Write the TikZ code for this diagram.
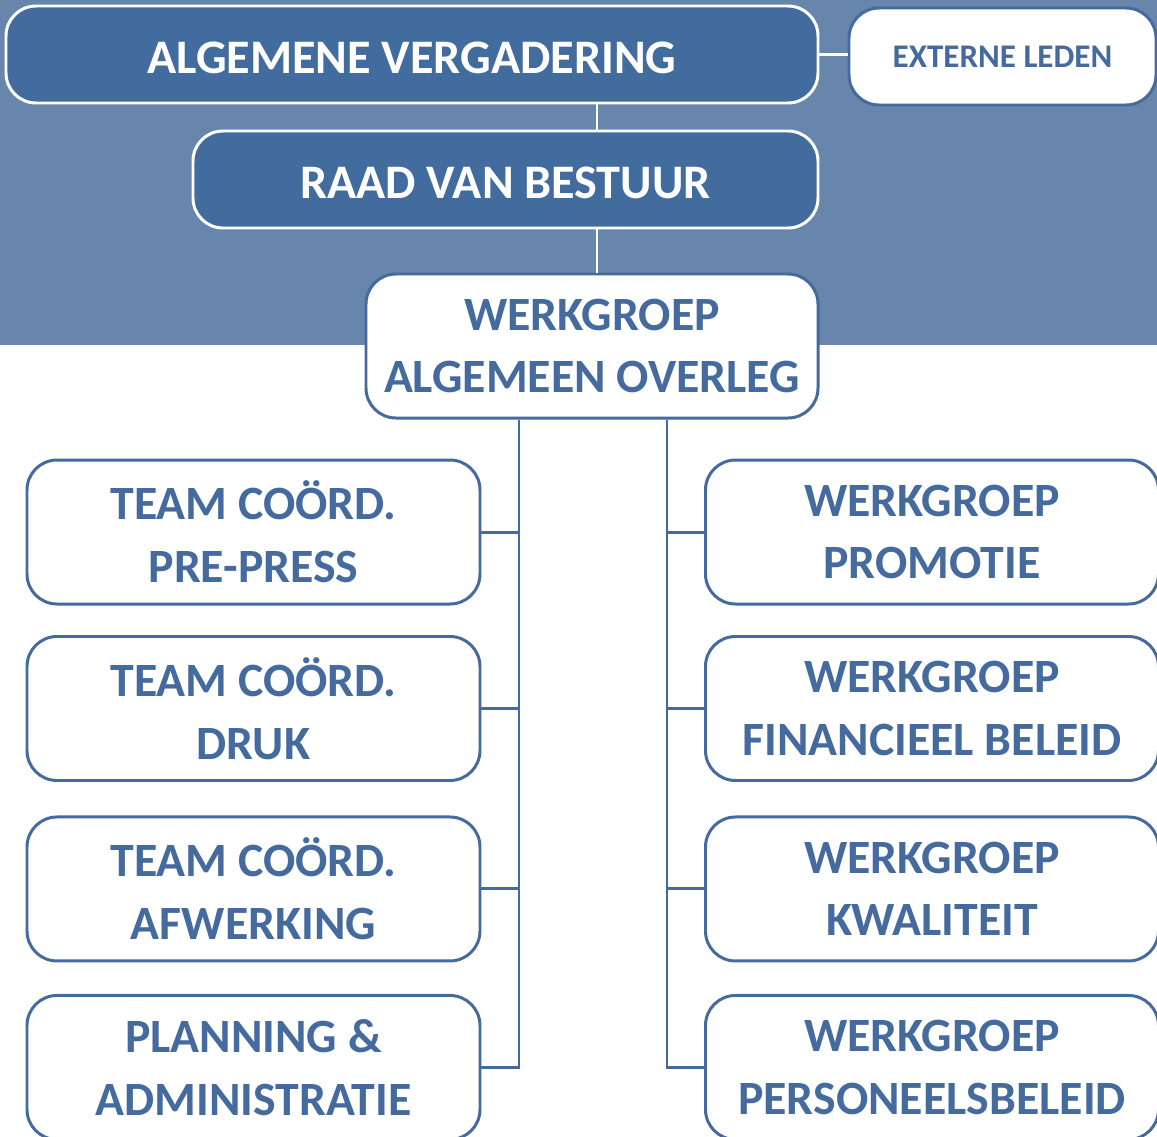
\documentclass[tikz,border=0pt]{standalone}
\usepackage{fontspec}
\setmainfont{Carlito}
\usetikzlibrary{positioning}
\definecolor{bandblue}{RGB}{104,133,171}
\definecolor{darkblue}{RGB}{67,108,158}
\definecolor{lineblue}{RGB}{68,106,158}

\begin{document}
\begin{tikzpicture}[
    node distance=0.34cm,
    board/.style={rectangle,rounded corners=0.3cm,draw=white,line width=0.85pt,fill=darkblue,text=white,font=\fontsize{13.7}{16}\selectfont\bfseries,minimum height=0.97cm,inner sep=0pt,execute at begin node=\vphantom{Ö}},
    ext/.style={rectangle,rounded corners=0.3cm,draw=lineblue,line width=0.85pt,fill=white,text=lineblue,font=\fontsize{9.4}{11}\selectfont\bfseries,minimum width=3.07cm,minimum height=0.97cm,inner sep=0pt},
    unit/.style={rectangle,rounded corners=0.3cm,draw=lineblue,line width=0.85pt,fill=white,text=lineblue,align=center,font=\fontsize{13.6}{17.9}\selectfont\bfseries,minimum width=4.53cm,minimum height=1.44cm,inner sep=0pt,execute at begin node=\vphantom{Ö}},
    linkw/.style={draw=white,line width=0.85pt},
    link/.style={draw=lineblue,line width=0.85pt}
    ]
    % background band
    \fill[bandblue] (0,0) rectangle (11.57,-3.45);
    \useasboundingbox (0,0) rectangle (11.57,-11.37);

    \node (av) [board,minimum width=8.12cm] at (4.12,-0.545) {ALGEMENE VERGADERING};
    \node (el) [ext] at (10.025,-0.565) {EXTERNE LEDEN};
    \node (rvb) [board,minimum width=6.25cm] at (5.055,-1.795) {RAAD VAN BESTUUR};
    \node (wao) [unit,minimum width=4.52cm] at (5.92,-3.46) {WERKGROEP\\ALGEMEEN OVERLEG};

    % left column
    \node (tc1) [unit] at (2.535,-5.32) {TEAM COÖRD.\\PRE-PRESS};
    \node (tc2) [unit,below=0.295cm of tc1] {TEAM COÖRD.\\DRUK};
    \node (tc3) [unit,below=0.335cm of tc2] {TEAM COÖRD.\\AFWERKING};
    \node (pa) [unit,below=0.315cm of tc3] {PLANNING \&\\ADMINISTRATIE};

    % right column
    \node (wg1) [unit,right=2.225cm of tc1] {WERKGROEP\\PROMOTIE};
    \node (wg2) [unit,right=2.225cm of tc2] {WERKGROEP\\FINANCIEEL BELEID};
    \node (wg3) [unit,right=2.225cm of tc3] {WERKGROEP\\KWALITEIT};
    \node (wg4) [unit,right=2.225cm of pa] {WERKGROEP\\PERSONEELSBELEID};

    \coordinate (spine) at (5.97,0);
    \coordinate (lt) at (5.19,0);
    \coordinate (rt) at (6.67,0);

    \draw[linkw] (av.east) -- (av.east -| el.west);
    \draw[linkw] (av.south -| spine) -- (rvb.north -| spine);
    \draw[linkw] (rvb.south -| spine) -- (wao.north -| spine);

    \draw[link] (wao.south -| lt) |- (pa.east);
    \draw[link] (tc1.east) -- (tc1.east -| lt);
    \draw[link] (tc2.east) -- (tc2.east -| lt);
    \draw[link] (tc3.east) -- (tc3.east -| lt);
    \draw[link] (wao.south -| rt) |- (wg4.west);
    \draw[link] (wg1.west) -- (wg1.west -| rt);
    \draw[link] (wg2.west) -- (wg2.west -| rt);
    \draw[link] (wg3.west) -- (wg3.west -| rt);
\end{tikzpicture}
\end{document}
